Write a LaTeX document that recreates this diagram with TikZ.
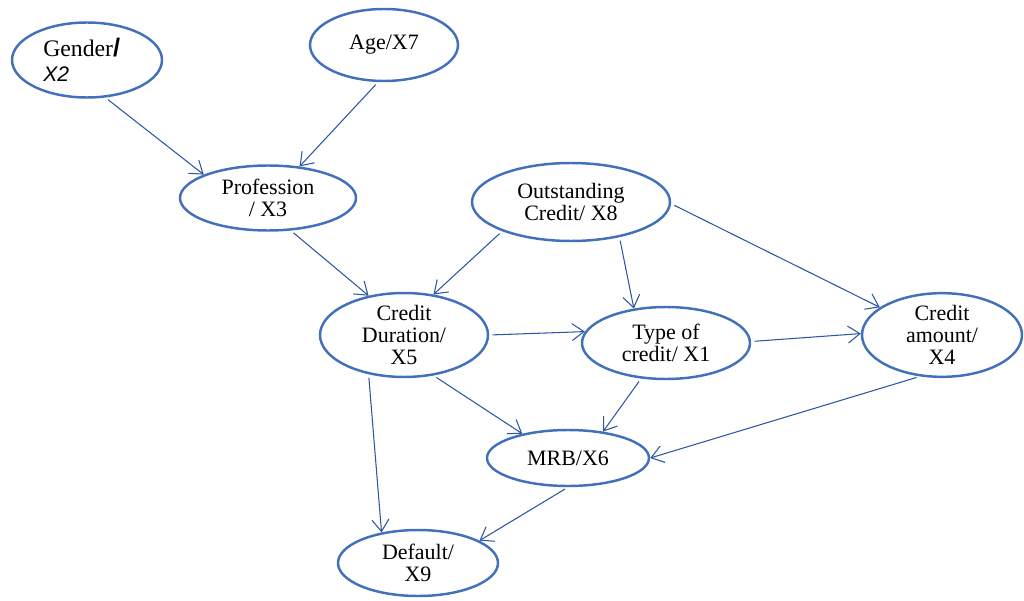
\documentclass[tikz,border=0pt]{standalone}
\usepackage{fontspec}
\setmainfont{Liberation Serif}
\setsansfont{Liberation Sans}
\usepackage{tikz}
\usetikzlibrary{arrows.meta,shapes.geometric}
\definecolor{ovalblue}{RGB}{66,112,186}
\definecolor{linkblue}{RGB}{45,85,165}

\begin{document}
\begin{tikzpicture}[x=0.02cm,y=-0.02cm,
    var/.style={ellipse,draw=ovalblue,line width=1.4pt,inner sep=0pt,
                font=\fontsize{12.5}{12.5}\selectfont,align=center},
    link/.style={linkblue,line width=0.6pt,shorten <=2pt,
                 -{Straight Barb[length=2.4mm,width=3.4mm]}}]
    \useasboundingbox (0,0) rectangle (1024,601);
    % variables
    \node[var,minimum width=3.0cm,minimum height=1.5cm,align=left,
          font=\fontsize{13.5}{13.5}\selectfont] (gen) at (87,60)
      {Gender{\sffamily\bfseries\Large/}\hspace*{6pt}\\[1pt]
       {\sffamily\itshape\fontsize{12}{12}\selectfont X2}};
    \node[var,minimum width=2.96cm,minimum height=1.44cm] (age) at (384,45) {Age/X7};
    \node[var,minimum width=3.52cm,minimum height=1.3cm] (prof) at (268,198)
      {Profession\\/ X3};
    \node[var,minimum width=3.96cm,minimum height=1.56cm] (outc) at (571,202)
      {Outstanding\\Credit/ X8};
    \node[var,minimum width=3.36cm,minimum height=1.6cm] (dur) at (404,335)
      {Credit\\Duration/\\X5};
    \node[var,minimum width=3.36cm,minimum height=1.44cm] (type) at (666,343)
      {Type of\\credit/ X1};
    \node[var,minimum width=3.2cm,minimum height=1.6cm] (amt) at (942,335)
      {Credit\\amount/\\X4};
    \node[var,minimum width=3.24cm,minimum height=1.12cm] (mrb) at (568,458) {MRB/X6};
    \node[var,minimum width=3.2cm,minimum height=1.32cm] (def) at (418,563)
      {Default/\\X9};
    % links
    \draw[link] (gen.-64) -- (prof.160);
    \draw[link] (age.-99) -- (prof.45);
    \draw[link] (prof.-55) -- (dur.132);
    \draw[link] (outc.-157) -- (dur.54);
    \draw[link] (outc.-36) -- (type.133);
    \draw[link] (outc.-1) -- (amt.156);
    \draw[link] (dur.0) -- (type.172);
    \draw[link] (type.1) -- (amt.179);
    \draw[link] (dur.-54) -- (mrb.152);
    \draw[link] (type.-125) -- (mrb.37);
    \draw[link] (amt.-118) -- (mrb.0);
    \draw[link] (dur.-132) -- (def.140);
    \draw[link] (mrb.-90) -- (def.20);
\end{tikzpicture}
\end{document}
